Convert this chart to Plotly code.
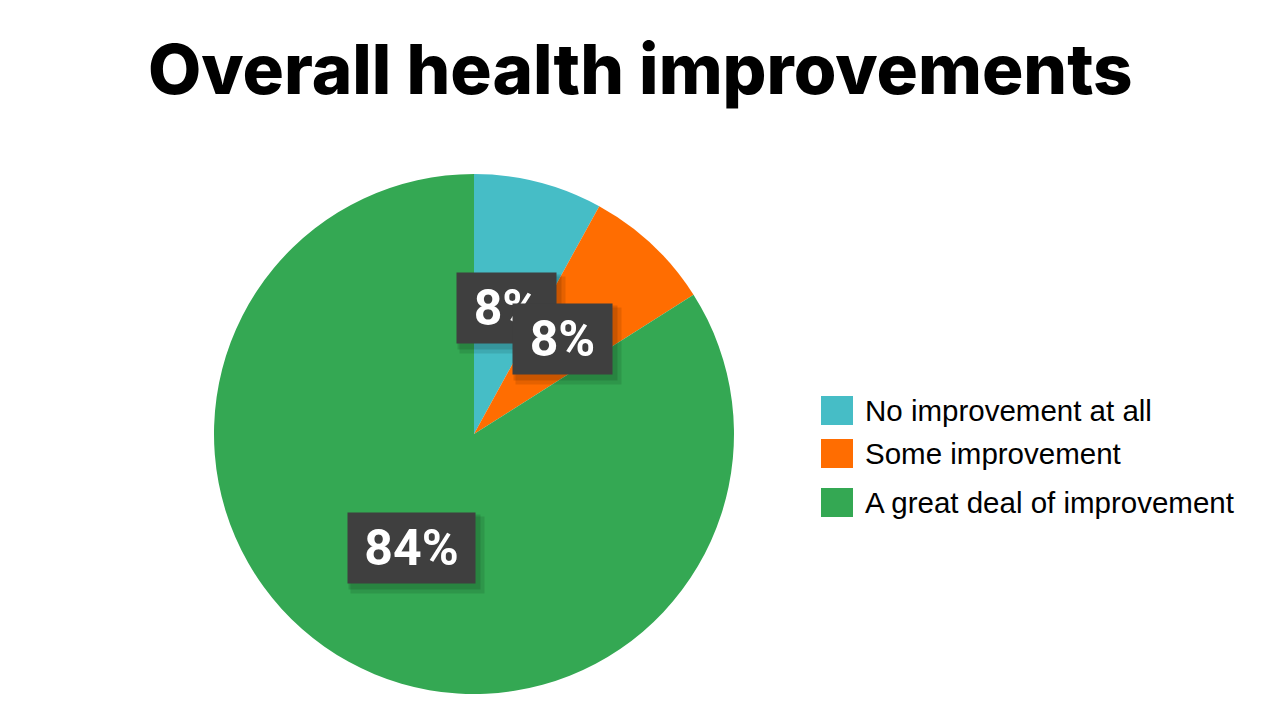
import math
import plotly.graph_objects as go

title = "Overall health improvements"
categories = ["No improvement at all", "Some improvement", "A great deal of improvement"]
values = [8, 8, 84]
colors = ["#46BDC6", "#FF6D01", "#34A853"]

# page body has an 8px margin; figure sits at (8, 8)
OFF = 8
W, H = 1264, 704
cx, cy, R = 474, 434, 260  # pie centre / radius in page pixels


def fx(p):
    return (p - OFF) / W


def fy(p):
    return 1 - (p - OFF) / H


fig = go.Figure(go.Pie(
    labels=categories, values=values, sort=False, direction="clockwise",
    rotation=0, marker=dict(colors=colors, line=dict(width=0)),
    textinfo="none", showlegend=False,
    domain=dict(x=[fx(cx - R), fx(cx + R)], y=[fy(cy + R), fy(cy - R)]),
))

total = sum(values)
annotations = []
cum = 0
label_widths = [99, 99, 127]
for v, bw in zip(values, label_widths):
    mid = (cum + v / 2) / total * 2 * math.pi
    cum += v
    px = cx + 0.5 * R * math.sin(mid)
    py = cy - 0.5 * R * math.cos(mid)
    pct = f"{round(v / total * 100)}%"
    # soft shadow (two layers)
    for dx, dy, grow, a in [(3, 4, 4, 0.12), (6, 7, 6, 0.10)]:
        annotations.append(dict(
            x=fx(px + dx), y=fy(py + dy), xref="paper", yref="paper",
            xanchor="center", yanchor="middle",
            text=" ", showarrow=False, width=bw + grow, height=70 + grow,
            bgcolor=f"rgba(0,0,0,{a})", borderpad=0,
            font=dict(size=10, color="rgba(0,0,0,0)", family="Roboto"),
        ))
    annotations.append(dict(
        x=fx(px), y=fy(py), xref="paper", yref="paper",
        xanchor="center", yanchor="middle",
        text=pct, showarrow=False, width=bw, height=70,
        bgcolor="#3f3f3f", borderpad=0,
        font=dict(size=50, color="white", family="Roboto", weight="bold"),
    ))

# title
annotations.append(dict(
    x=fx(640), y=fy(69), xref="paper", yref="paper", xanchor="center", yanchor="middle",
    text=title, showarrow=False,
    font=dict(size=69, color="black", family="Inter", weight=800),
))

# custom legend
shapes = []
legend_y = [410, 453, 502]
for cat, col, ly in zip(categories, colors, legend_y):
    shapes.append(dict(type="rect", xref="paper", yref="paper",
                       x0=fx(821), x1=fx(853), y0=fy(ly + 15), y1=fy(ly - 14),
                       fillcolor=col, line=dict(width=0)))
    annotations.append(dict(
        x=fx(863), y=fy(ly), xref="paper", yref="paper", xanchor="left", yanchor="middle",
        text=cat, showarrow=False,
        font=dict(size=29.5, color="black", family="Liberation Sans, Arial"),
    ))

fig.update_layout(
    width=W, height=H, margin=dict(l=0, r=0, t=0, b=0),
    paper_bgcolor="white", plot_bgcolor="white",
    annotations=annotations, shapes=shapes, showlegend=False,
)

fig.write_html("out.html")
